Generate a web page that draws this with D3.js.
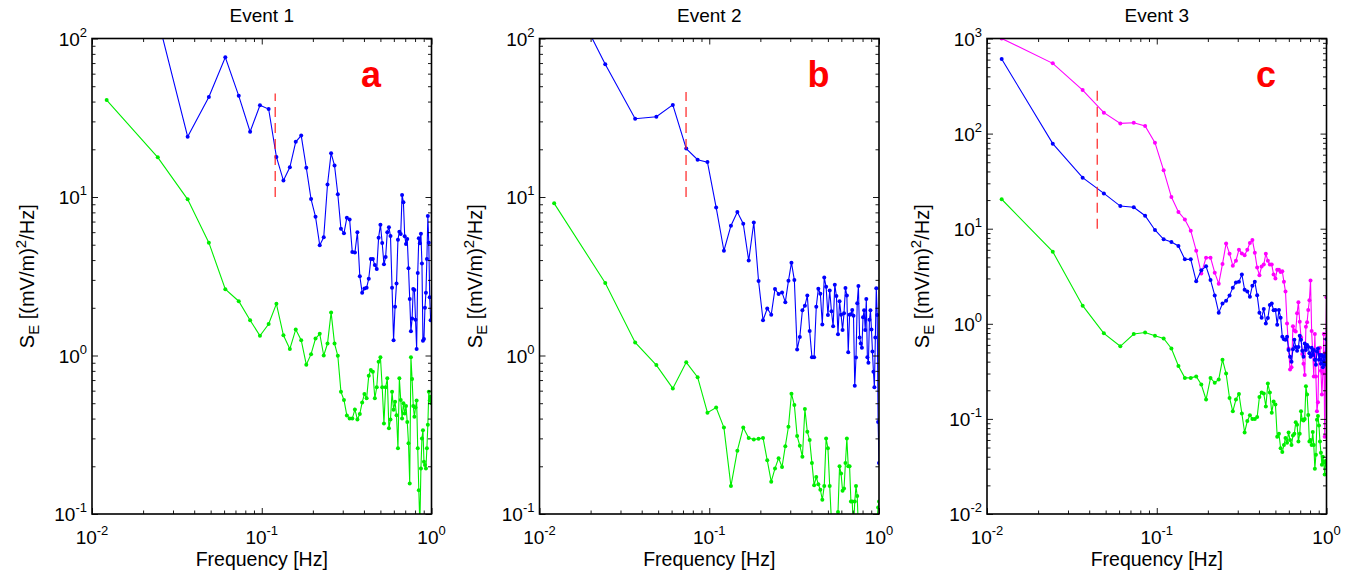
<!DOCTYPE html>
<html>
<head>
<meta charset="utf-8">
<script src="https://cdn.jsdelivr.net/npm/d3@7"></script>
<style>
body{margin:0;background:#fff;}
text{font-family:"Liberation Sans",Arial,Helvetica,sans-serif;fill:#000;}
.trace{fill:none;stroke-width:1.1;}
</style>
</head>
<body>
<svg id="fig" width="1351" height="575"></svg>
<script>
// frequency bins [Hz]
var freqHz = [0.0122,0.0244,0.0366,0.0488,0.061,0.0732,0.0854,0.0976,0.1098,0.122,
	0.1342,0.1464,0.1586,0.1708,0.183,0.1952,0.2074,0.2196,0.2318,0.244,
	0.2562,0.2684,0.2806,0.2928,0.305,0.3172,0.3294,0.3416,0.3538,0.366,
	0.3782,0.3904,0.4026,0.4148,0.427,0.4392,0.4514,0.4636,0.4758,0.488,
	0.5002,0.5124,0.5246,0.5368,0.549,0.5612,0.5734,0.5856,0.5978,0.61,
	0.6222,0.6344,0.6466,0.6588,0.671,0.6832,0.6954,0.7076,0.7198,0.732,
	0.7442,0.7564,0.7686,0.7808,0.793,0.8052,0.8174,0.8296,0.8418,0.854,
	0.8662,0.8784,0.8906,0.9028,0.915,0.9272,0.9394,0.9516,0.9638,0.976,
	0.9882,1.0];

// Event 1
var event1Blue = [300,134,24.0,42.7,76.1,43.5,25.8,37.9,35.9,17.9,
	12.7,15.4,22.3,24.4,15.3,9.7,7.5,4.96,5.57,12.0,
	18.9,15.8,10.4,6.3,5.9,7.4,7.2,4.5,4.46,6.0,
	3.16,2.49,2.65,2.68,3.05,4.06,4.06,3.72,3.51,5.54,
	6.69,5.13,3.76,4.18,6.0,6.44,5.68,2.68,1.25,2.03,
	2.85,5.38,6.04,5.84,10.3,9.25,5.65,5.05,5.43,3.55,
	2.27,1.42,1.71,2.63,2.59,1.68,1.10,3.31,5.49,5.1,
	5.87,3.8,1.24,1.27,2.0,2.49,4.06,7.6,5.15,2.33,
	1.67,1.67];
var event1Green = [40.9,17.8,9.67,5.15,2.62,2.2,1.67,1.33,1.58,2.12,
	1.34,1.10,1.46,1.25,0.875,1.02,1.28,1.37,1.0,1.19,
	1.87,1.19,0.996,0.59,0.524,0.419,0.40,0.40,0.457,0.395,
	0.428,0.506,0.571,0.537,0.746,0.81,0.79,0.537,0.63,0.914,
	0.974,0.63,0.373,0.63,0.718,0.347,0.395,0.59,0.454,0.51,
	0.42,0.26,0.718,0.524,0.40,0.5,0.43,0.48,0.38,0.28,
	0.156,0.974,0.71,0.48,0.41,0.47,0.52,0.26,0.141,0.085,
	0.194,0.30,0.337,0.214,0.204,0.194,0.26,0.366,0.59,0.52,
	0.55,0.5];

// Event 2
var event2Blue = [300,68.7,31.2,32.1,38.1,20.2,17.2,16.6,8.6,4.58,
	6.59,8.04,6.79,3.97,6.9,2.95,1.67,1.98,1.81,2.63,
	2.44,2.5,2.17,2.96,3.85,2.99,1.09,1.31,1.93,2.06,
	2.39,1.43,0.974,0.974,2.03,2.64,2.45,1.57,3.11,2.71,
	1.80,2.57,1.90,1.53,2.8,2.37,1.36,2.2,1.81,1.45,
	1.85,2.67,2.39,1.05,1.81,1.82,1.94,1.78,0.645,0.97,
	2.14,2.74,1.30,1.19,1.12,1.74,1.93,1.45,2.27,0.974,
	0.9,1.68,1.93,1.46,1.06,0.79,0.63,1.30,2.66,1.8,
	0.38,0.21];
var event2Green = [9.12,2.87,1.21,0.87,0.62,0.906,0.73,0.436,0.469,0.351,
	0.150,0.251,0.351,0.302,0.295,0.298,0.302,0.218,0.16,0.194,
	0.225,0.198,0.268,0.355,0.574,0.487,0.31,0.27,0.23,0.46,
	0.33,0.293,0.21,0.152,0.171,0.154,0.142,0.123,0.15,0.30,
	0.26,0.15,0.09,0.07,0.08,0.085,0.103,0.2,0.18,0.14,
	0.145,0.21,0.30,0.2,0.2,0.12,0.12,0.08,0.12,0.15,
	0.13,0.08,0.06,0.07,0.05,0.06,0.08,0.07,0.05,0.06,
	0.07,0.05,0.06,0.08,0.06,0.05,0.07,0.06,0.08,0.095,
	0.11,0.12];

// Event 3
var event3Magenta = [1000,548,287,166,128,130,120,80.3,41.1,21.5,
	15.0,12.5,9.54,5.87,3.37,4.96,4.96,3.45,2.64,4.26,
	7.0,5.46,4.09,4.61,6.02,5.5,5.25,6.0,7.08,7.6,
	5.6,3.9,3.24,4.0,4.2,5.45,4.6,4.2,4.2,3.3,
	3.0,3.7,3.7,3.5,3.57,2.76,2.18,1.01,0.55,0.33,
	0.35,0.94,0.85,0.83,1.29,1.68,1.05,0.72,0.48,0.38,
	0.29,0.93,1.04,1.4,1.77,2.85,0.84,0.48,0.28,0.78,
	0.28,0.12,0.15,0.48,0.56,0.32,0.18,0.3,0.78,0.065,
	0.5,1.9];
var event3Blue = [609,78.4,34.4,23.5,17.3,16.8,13.7,9.7,7.74,7.25,
	6.58,4.76,4.76,2.80,3.65,4.02,2.89,1.99,1.31,1.63,
	1.75,1.98,2.4,2.71,2.76,3.3,2.28,2.18,1.93,2.52,
	2.77,2.0,1.31,1.16,1.43,1.01,1.15,1.58,1.63,1.39,
	1.40,0.98,1.40,1.16,0.73,0.69,0.68,0.73,0.53,0.45,
	0.40,0.54,0.68,0.57,0.52,0.57,0.75,0.68,0.52,0.45,
	0.62,0.53,0.6,0.57,0.49,0.45,0.56,0.47,0.53,0.42,
	0.37,0.51,0.55,0.42,0.47,0.38,0.47,0.35,0.45,0.37,
	0.47,0.69];
var event3Green = [20.4,5.73,1.55,0.794,0.58,0.78,0.81,0.75,0.70,0.55,
	0.36,0.27,0.27,0.28,0.23,0.16,0.27,0.24,0.26,0.42,
	0.30,0.166,0.12,0.16,0.183,0.114,0.072,0.095,0.109,0.10,
	0.10,0.105,0.17,0.19,0.185,0.135,0.235,0.19,0.116,0.152,
	0.142,0.065,0.07,0.049,0.045,0.053,0.063,0.056,0.072,0.06,
	0.053,0.067,0.07,0.092,0.087,0.058,0.07,0.12,0.098,0.096,
	0.1,0.22,0.18,0.11,0.058,0.06,0.053,0.073,0.053,0.030,
	0.042,0.098,0.107,0.085,0.058,0.044,0.033,0.04,0.035,0.026,
	0.036,0.033];

var panelTitles = ['Event 1', 'Event 2', 'Event 3'];
var panelLetters = ['a', 'b', 'c'];
var yDomains = [[0.1, 100], [0.1, 100], [0.01, 1000]];
var yTickExp = [[-1, 0, 1, 2], [-1, 0, 1, 2], [-2, -1, 0, 1, 2, 3]];
var xTickExp = [-2, -1, 0];
// vertical dashed marker: frequency and value range
var markFreq = [0.12, 0.073, 0.0446];
var markRange = [[10, 45], [10, 46], [10, 300]];

var panelSeries = [
	[{v: event1Blue, c: '#0000ff'}, {v: event1Green, c: '#00ee00'}],
	[{v: event2Blue, c: '#0000ff'}, {v: event2Green, c: '#00ee00'}],
	[{v: event3Magenta, c: '#ff00ff'}, {v: event3Blue, c: '#0000ff'}, {v: event3Green, c: '#00ee00'}]
];

var panelLeft = [92, 539.5, 987];
var plotTop = 38.5, plotW = 339.5, plotH = 475.5;

var svg = d3.select('#fig');

function minorTicks(lo, hi){
	var out = [];
	for(var e = Math.round(Math.log10(lo)); e < Math.round(Math.log10(hi)); e++){
		for(var m = 2; m < 10; m++) out.push(m * Math.pow(10, e));
	}
	return out;
}

function powLabel(sel, exp, supSize){
	sel.text('10');
	sel.append('tspan').attr('dy', -9).attr('font-size', supSize).text(exp);
}

function drawPanel(i){
	var g = svg.append('g').attr('transform', 'translate(' + panelLeft[i] + ',' + plotTop + ')');
	var x = d3.scaleLog().domain([0.01, 1]).range([0, plotW]);
	var y = d3.scaleLog().domain(yDomains[i]).range([plotH, 0]);

	g.append('clipPath').attr('id', 'clip' + i)
		.append('rect').attr('width', plotW).attr('height', plotH);
	var plot = g.append('g').attr('clip-path', 'url(#clip' + i + ')');

	//traces
	var line = d3.line().x(function(d){ return x(d[0]); }).y(function(d){ return y(d[1]); });
	panelSeries[i].forEach(function(s){
		var pts = freqHz.map(function(f, k){ return [f, s.v[k]]; });
		plot.append('path').datum(pts).attr('class', 'trace').attr('stroke', s.c).attr('d', line);
		plot.selectAll(null).data(pts).enter().append('circle')
			.attr('cx', function(d){ return x(d[0]); })
			.attr('cy', function(d){ return y(d[1]); })
			.attr('r', 2).attr('fill', s.c);
	});

	//dashed marker
	plot.append('line')
		.attr('x1', x(markFreq[i])).attr('x2', x(markFreq[i]))
		.attr('y1', y(markRange[i][0])).attr('y2', y(markRange[i][1]))
		.attr('stroke', '#ff2020').attr('stroke-width', 1.2).attr('stroke-dasharray', '10,6');

	//ticks on all four sides, pointing inward
	var xMajor = xTickExp.map(function(e){ return Math.pow(10, e); });
	var yMajor = yTickExp[i].map(function(e){ return Math.pow(10, e); });
	var xMinor = minorTicks(0.01, 1), yMinor = minorTicks(yDomains[i][0], yDomains[i][1]);
	var axes = [
		[d3.axisBottom(x), xMajor, xMinor, 'translate(0,' + plotH + ')'],
		[d3.axisTop(x), xMajor, xMinor, null],
		[d3.axisLeft(y), yMajor, yMinor, null],
		[d3.axisRight(y), yMajor, yMinor, 'translate(' + plotW + ',0)']
	];
	axes.forEach(function(a){
		[[a[1], -6], [a[2], -3.5]].forEach(function(t){
			var ax = g.append('g').attr('transform', a[3])
				.call(a[0].tickValues(t[0]).tickSize(t[1]).tickFormat(''));
			ax.select('.domain').remove();
			ax.selectAll('line').attr('stroke', '#000').attr('stroke-width', 0.9);
		});
	});

	g.append('rect').attr('width', plotW).attr('height', plotH)
		.attr('fill', 'none').attr('stroke', '#000').attr('stroke-width', 1.6);

	//tick labels
	xTickExp.forEach(function(e){
		g.append('text').attr('x', x(Math.pow(10, e))).attr('y', plotH + 30)
			.attr('text-anchor', 'middle').attr('font-size', 19)
			.call(powLabel, e, 13);
	});
	yTickExp[i].forEach(function(e){
		g.append('text').attr('x', -5).attr('y', y(Math.pow(10, e)) + 7)
			.attr('text-anchor', 'end').attr('font-size', 19)
			.call(powLabel, e, 13);
	});

	//titles and labels
	g.append('text').attr('x', plotW / 2).attr('y', -17).attr('text-anchor', 'middle')
		.attr('font-size', 19).text(panelTitles[i]);
	g.append('text').attr('x', plotW / 2).attr('y', plotH + 52).attr('text-anchor', 'middle')
		.attr('font-size', 19.5).text('Frequency [Hz]');

	var yl = g.append('text').attr('text-anchor', 'middle').attr('font-size', 20)
		.attr('transform', 'translate(-58,' + (plotH / 2) + ') rotate(-90)');
	yl.append('tspan').text('S');
	yl.append('tspan').attr('dy', 5).attr('font-size', 15).text('E');
	yl.append('tspan').attr('dy', -5).text(' [(mV/m)');
	yl.append('tspan').attr('dy', -8).attr('font-size', 15).text('2');
	yl.append('tspan').attr('dy', 8).text('/Hz]');

	g.append('text').attr('x', 279).attr('y', 48).attr('text-anchor', 'middle')
		.attr('font-size', 36).attr('font-weight', 'bold').style('fill', '#ff0000')
		.text(panelLetters[i]);
}

for(var i = 0; i < 3; i++) drawPanel(i);
</script>
</body>
</html>
